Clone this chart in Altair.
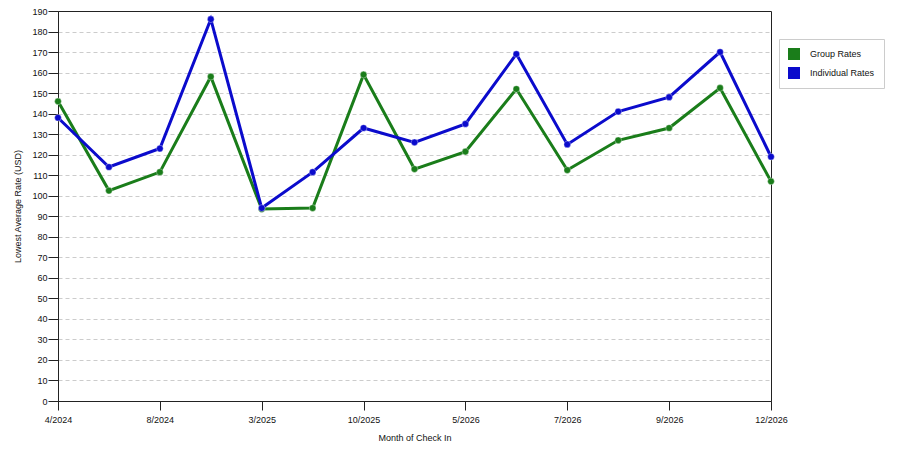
import altair as alt
import pandas as pd

months = ["4/2024", "6/2024", "8/2024", "12/2024", "3/2025", "7/2025", "10/2025", "2/2026",
          "5/2026", "6/2026", "7/2026", "8/2026", "9/2026", "11/2026", "12/2026"]
group_rates = [146, 102.5, 111.5, 158, 93.5, 94, 159, 113, 121.5, 152, 112.5, 127, 133, 152.5, 107]
individual_rates = [138, 114, 123, 186, 94, 111.5, 133, 126, 135, 169, 125, 141, 148, 170, 119]
series_names = ["Group Rates", "Individual Rates"]
series_colors = ["#1a7d1a", "#0b0bcc"]
labelled_months = months[::2]
y_ticks = list(range(0, 191, 10))

rows = []
for i, m in enumerate(months):
    rows.append({"month": m, "series": series_names[0], "rate": group_rates[i]})
    rows.append({"month": m, "series": series_names[1], "rate": individual_rates[i]})
df = pd.DataFrame(rows)

FONT = "Liberation Sans"

x = alt.X("month:O", sort=months,
          scale=alt.Scale(type="point", padding=0),
          axis=alt.Axis(title="Month of Check In", values=labelled_months, labelAngle=0,
                        grid=False, tickSize=9, labelPadding=5, titlePadding=9))
y = alt.Y("rate:Q",
          scale=alt.Scale(domain=[0, 190], nice=False, zero=True),
          axis=alt.Axis(title="Lowest Average Rate (USD)", values=y_ticks, grid=True,
                        gridDash=[4, 3], gridColor="#cccccc",
                        gridOpacity={"condition": {"test": "datum.value >= 190", "value": 0}, "value": 1},
                        tickSize=10, labelPadding=1, titlePadding=9))
legend = alt.Legend(title=None, orient="none", legendX=721, legendY=28,
                    symbolType="square", symbolSize=144, symbolOpacity=1,
                    symbolStrokeWidth=0,
                    padding=9, rowPadding=7, labelOffset=10,
                    strokeColor="#cccccc", fillColor="white",
                    labelFontSize=9, labelFont=FONT, labelColor="#111111")
color = alt.Color("series:N",
                  scale=alt.Scale(domain=series_names, range=series_colors),
                  legend=legend)

base = alt.Chart(df)
lines = base.mark_line(strokeWidth=3).encode(x=x, y=y, color=color)
points = base.mark_point(filled=True, size=45, opacity=1, stroke="#ffffff", strokeOpacity=0.35, strokeWidth=1).encode(x=x, y=y, color=color)

chart = alt.layer(lines, points).properties(
    width=713, height=390,
    autosize=alt.AutoSizeParams(type="none"),
    padding={"left": 50, "top": 3, "right": 120, "bottom": 41},
).configure_view(
    stroke="#222222", strokeWidth=1
).configure_axis(
    labelFont=FONT, labelFontSize=9, labelColor="#111111",
    titleFont=FONT, titleFontSize=9, titleFontWeight="normal", titleColor="#111111",
    domainColor="#222222", tickColor="#222222"
)

chart.save("out.html", embed_options={"renderer": "svg", "actions": False})
